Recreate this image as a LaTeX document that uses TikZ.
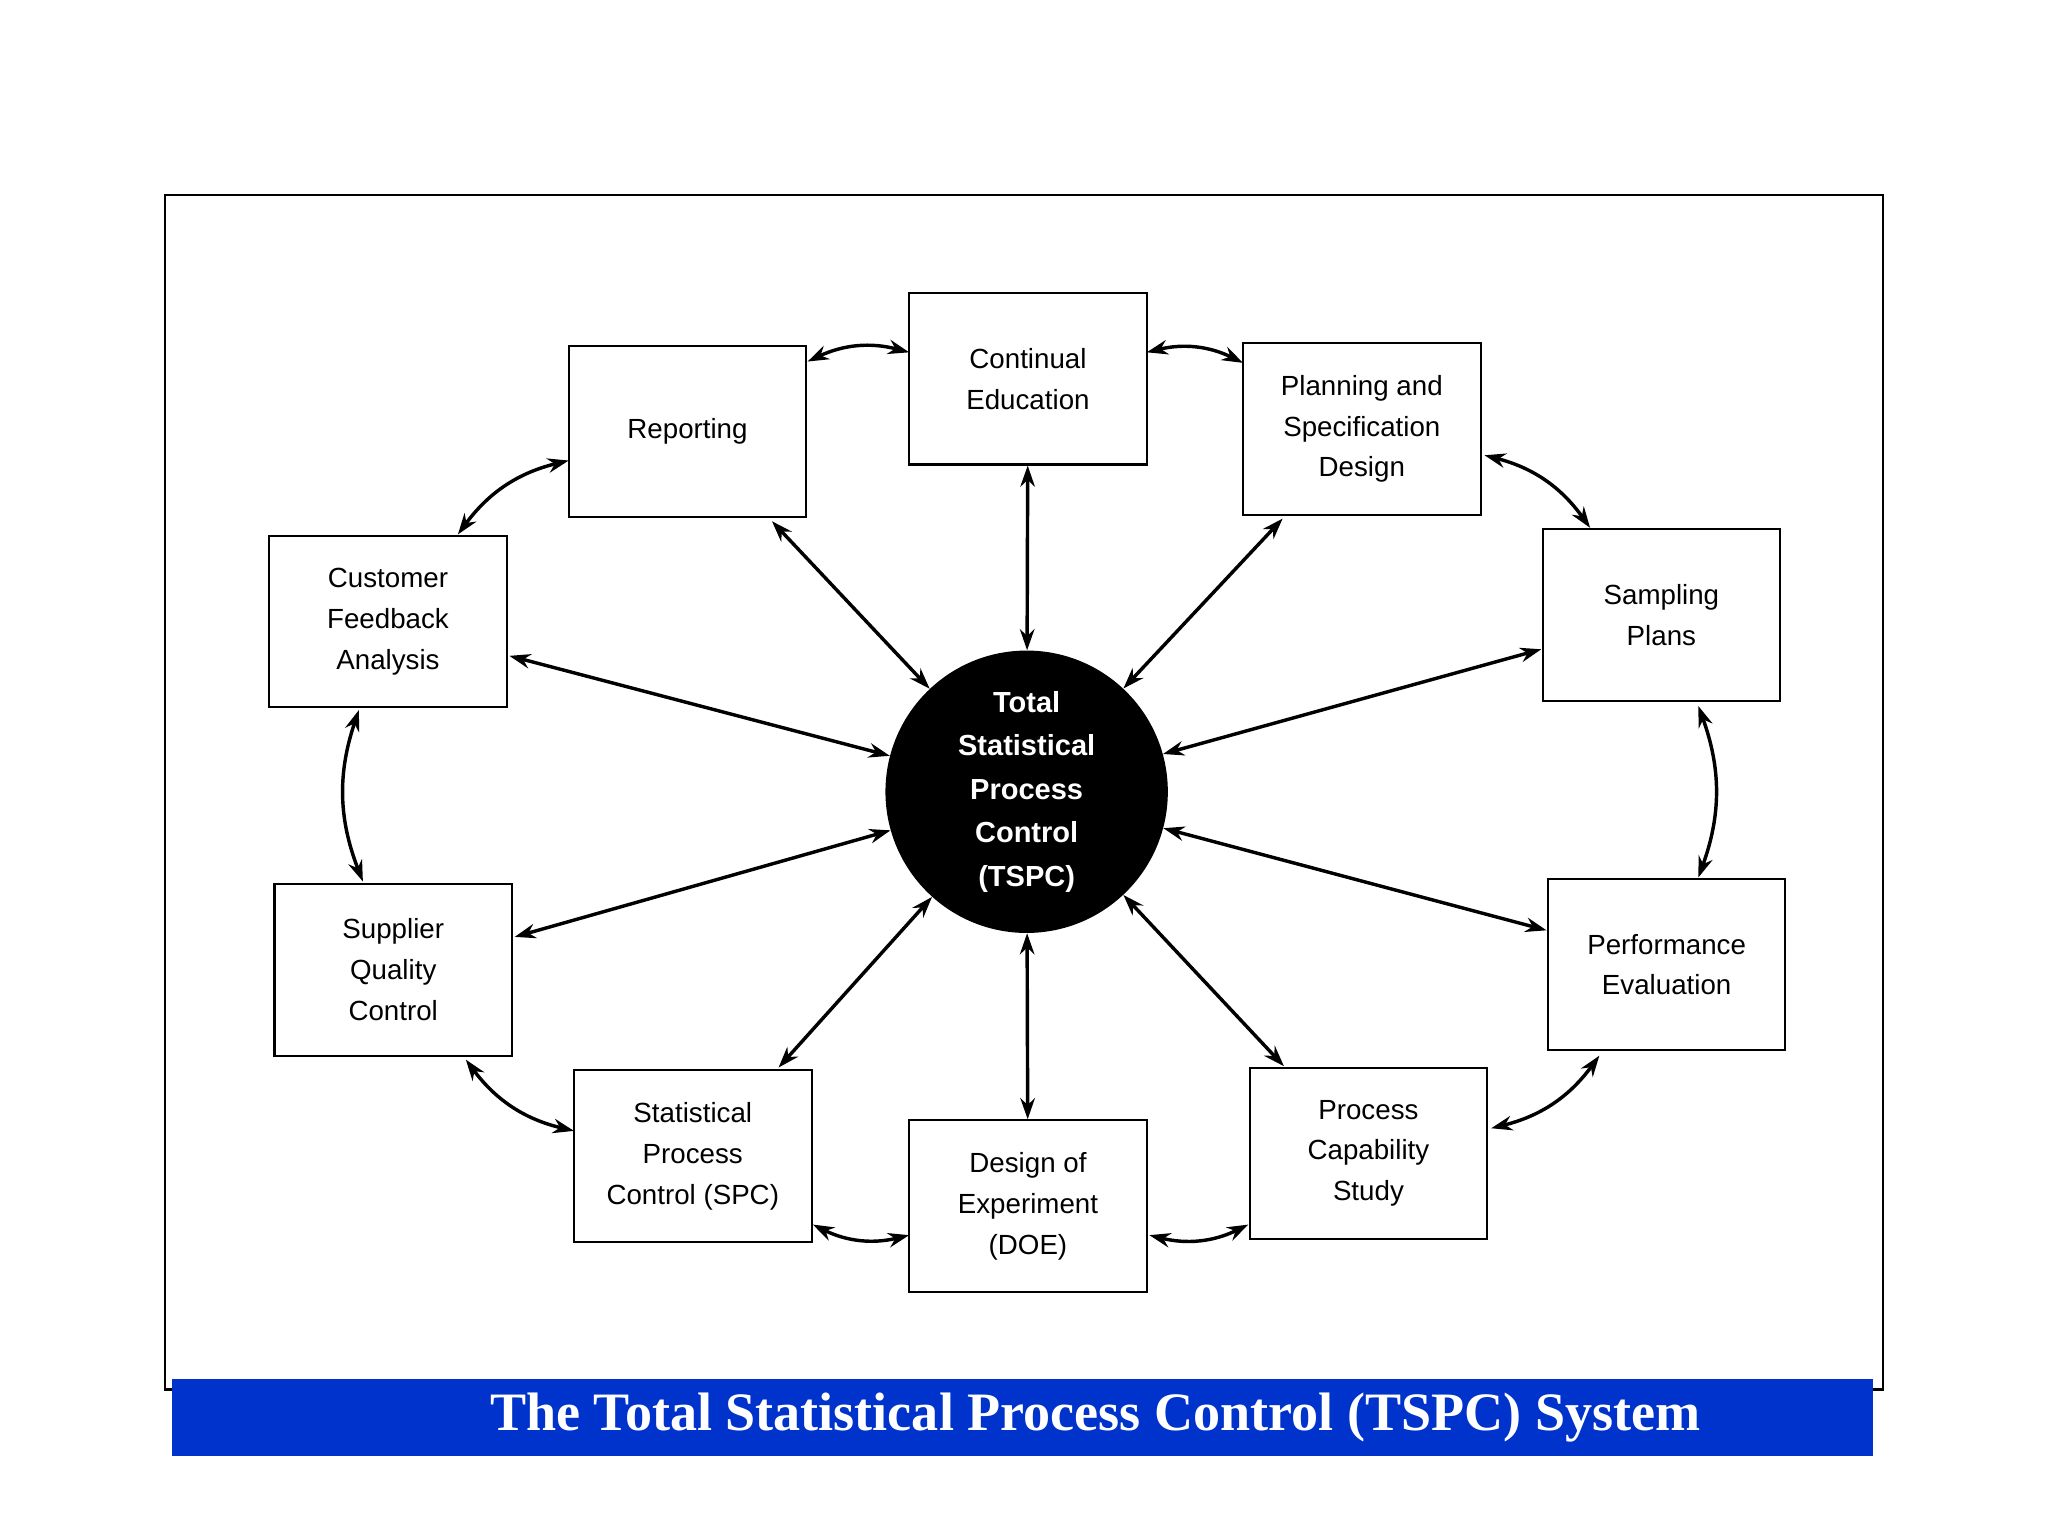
\documentclass[tikz,border=0pt]{standalone}
\usepackage{fontspec}
\setmainfont{Liberation Sans}
\newfontfamily\serifb{Liberation Serif}
\usetikzlibrary{arrows.meta}
\begin{document}
\begin{tikzpicture}[x=1pt,y=-1pt,
  box/.style={draw,line width=1.6pt,minimum width=180pt,minimum height=130pt,inner sep=0pt,align=center,font=\fontsize{21}{31}\selectfont},
  arr/.style={{Stealth[length=16pt,width=11pt]}-{Stealth[length=16pt,width=11pt]},line width=2.6pt}]
\useasboundingbox (0,0) rectangle (1552,1164);
\fill[white] (0,0) rectangle (1552,1164);
\draw[line width=1.6pt] (125,148) rectangle (1427,1053);
\node[fill={rgb,255:red,0;green,51;blue,204},minimum width=1289pt,minimum height=58pt,inner sep=0pt,text=white,font=\serifb\bfseries\fontsize{41}{44}\selectfont] (bar) at (775,1074) {\hspace*{110pt}The Total Statistical Process Control (TSPC) System};
\node[circle,fill=black,minimum size=214pt,inner sep=0pt,text=white,align=center,font=\bfseries\fontsize{22}{33}\selectfont] (c) at (778,600) {Total\\Statistical\\Process\\Control\\(TSPC)};
\node[box] (ce) at (779,287) {Continual\\Education};
\node[box] (rep) at (521,327) {Reporting};
\node[box] (pl) at (1032,325) {Planning and\\Specification\\Design};
\node[box] (cu) at (294,471) {Customer\\Feedback\\Analysis};
\node[box] (sa) at (1259,466) {Sampling\\Plans};
\node[box] (su) at (298,735) {Supplier\\Quality\\Control};
\node[box] (pe) at (1263,731) {Performance\\Evaluation};
\node[box] (spc) at (525,876) {Statistical\\Process\\Control (SPC)};
\node[box] (doe) at (779,914) {Design of\\Experiment\\(DOE)};
\node[box] (pcs) at (1037,874) {Process\\Capability\\Study};
% radial endpoints
\coordinate (r1) at (585,395); \coordinate (r2) at (972,393);
\coordinate (r3) at (386,497); \coordinate (r4) at (1168,492);
\coordinate (r5) at (390,710); \coordinate (r6) at (1172,705);
\coordinate (r7) at (590,809); \coordinate (r8) at (973,808);
\draw[arr] (c) -- (ce);
\draw[arr] (c) -- (doe);
\draw[arr] (c) -- (r1);
\draw[arr] (c) -- (r2);
\draw[arr] (c) -- (r3);
\draw[arr] (c) -- (r4);
\draw[arr] (c) -- (r5);
\draw[arr] (c) -- (r6);
\draw[arr] (c) -- (r7);
\draw[arr] (c) -- (r8);
% ring
\coordinate (a1) at (612,274); \coordinate (a2) at (689,267);
\coordinate (b1) at (869,267); \coordinate (b2) at (942,275);
\coordinate (d1) at (1125,345); \coordinate (d2) at (1205,400);
\coordinate (e1) at (1287,535); \coordinate (e2) at (1287,665);
\coordinate (f1) at (1212,800); \coordinate (f2) at (1130,855);
\coordinate (g1) at (946,928); \coordinate (g2) at (871,936);
\coordinate (h1) at (689,936); \coordinate (h2) at (616,928);
\coordinate (i1) at (435,857); \coordinate (i2) at (353,803);
\coordinate (j1) at (275,668); \coordinate (j2) at (272,538);
\coordinate (k1) at (347,405); \coordinate (k2) at (431,349);
\draw[arr] (a1) to[bend left=20] (a2);
\draw[arr] (b1) to[bend left=20] (b2);
\draw[arr] (d1) to[bend left=20] (d2);
\draw[arr] (e1) to[bend left=20] (e2);
\draw[arr] (f1) to[bend left=20] (f2);
\draw[arr] (g1) to[bend left=20] (g2);
\draw[arr] (h1) to[bend left=20] (h2);
\draw[arr] (i1) to[bend left=20] (i2);
\draw[arr] (j1) to[bend left=20] (j2);
\draw[arr] (k1) to[bend left=20] (k2);
\end{tikzpicture}
\end{document}
